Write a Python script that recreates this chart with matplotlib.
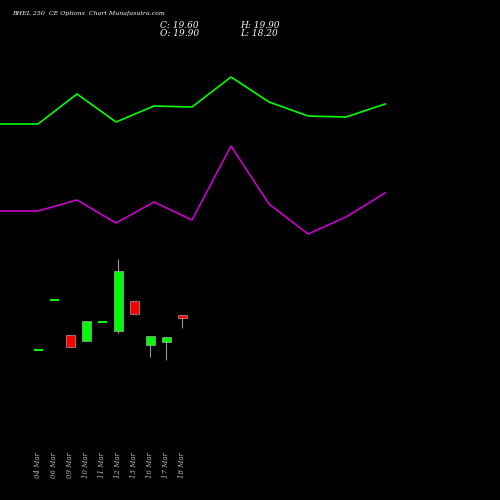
import matplotlib
matplotlib.use("Agg")
import matplotlib.pyplot as plt

# values in chart units (0 = bottom, 500 = top)
dates = ['04 Mar', '06 Mar', '09 Mar', '10 Mar', '11 Mar', '12 Mar', '13 Mar', '16 Mar', '17 Mar', '18 Mar']
opens = [150, 200, 165, 159, 178, 169, 199, 155, 158, 185]
closes = [150, 200, 153, 179, 178, 229, 186, 164, 163, 182]
highs = [150, 200, 165, 179, 178, 241, 199, 164, 163, 185]
lows = [150, 200, 153, 159, 178, 167, 186, 143, 140, 172]

line_x = [0, 38, 77, 116, 154, 192, 231, 269, 308, 346, 385]
green_line = [376, 376, 406, 378, 394, 393, 423, 398, 384, 383, 396]
magenta_line = [289, 289, 300, 277, 298, 280, 354, 296, 266, 283, 307]

fig = plt.figure(figsize=(5, 5), dpi=100, facecolor='black')
ax = fig.add_axes([0, 0, 1, 1])
ax.set_facecolor('black')
ax.set_xlim(0, 500)
ax.set_ylim(0, 500)
ax.axis('off')

ax.plot(line_x, green_line, color='#00ff00', lw=1.2)
ax.plot(line_x, magenta_line, color='#cc00cc', lw=1.2)

cx0, step, w = 38, 16, 9
for i, d in enumerate(dates):
    x = cx0 + i * step
    o, c, h, l = opens[i], closes[i], highs[i], lows[i]
    col = '#00ff00' if c >= o else '#ff0000'
    ax.vlines(x, l, h, color='#999999', lw=0.8, zorder=1)
    if o == c:
        ax.hlines(o, x - w / 2, x + w / 2, color=col, lw=1.5, zorder=2)
    else:
        ax.bar(x, abs(c - o), bottom=min(o, c), width=w, color=col,
               edgecolor='#bbbbbb', lw=0.4, zorder=2)
    ax.text(x, 35, d, rotation=90, color='#bbbbbb', fontsize=5,
            family='DejaVu Serif', style='italic', ha='center', va='center')

ax.text(12, 486, 'BHEL 250  CE Options  Chart Munafasutra.com', color='white',
        fontsize=4.5, family='DejaVu Serif', style='italic', va='center')
ax.text(160, 475, 'C: 19.60', color='white', fontsize=6.5, family='DejaVu Serif', style='italic', va='center')
ax.text(160, 467, 'O: 19.90', color='white', fontsize=6.5, family='DejaVu Serif', style='italic', va='center')
ax.text(240, 475, 'H: 19.90', color='white', fontsize=6.5, family='DejaVu Serif', style='italic', va='center')
ax.text(240, 467, 'L: 18.20', color='white', fontsize=6.5, family='DejaVu Serif', style='italic', va='center')

fig.savefig('out.png', dpi=100, facecolor='black')
